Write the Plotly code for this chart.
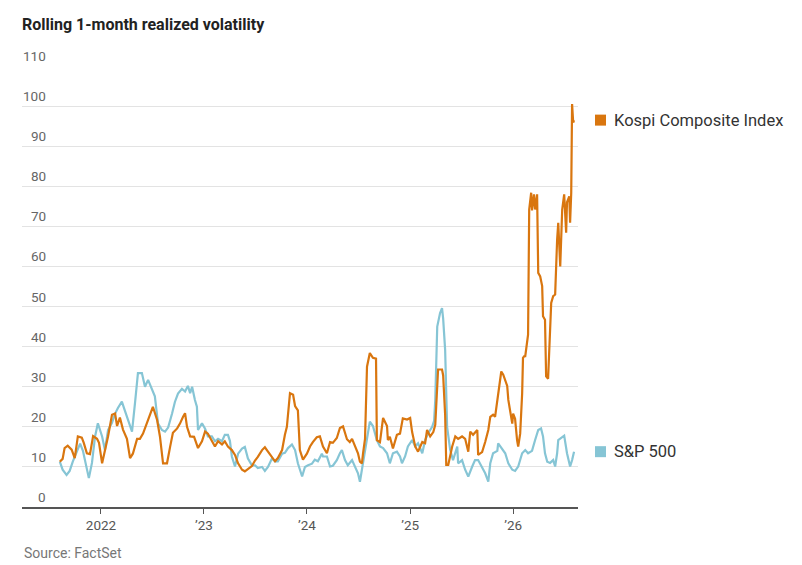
import plotly.graph_objects as go

kospi_dates = [
    "2021-08-08","2021-08-18","2021-08-25","2021-09-05","2021-09-19","2021-09-30","2021-10-11","2021-10-25",
    "2021-11-01","2021-11-12","2021-11-23","2021-12-04","2021-12-18","2021-12-25","2022-01-05","2022-01-15",
    "2022-01-26","2022-02-09","2022-02-20","2022-02-27","2022-03-09","2022-03-20","2022-04-03","2022-04-14",
    "2022-04-24","2022-05-09","2022-05-19","2022-05-30","2022-06-13","2022-06-24","2022-07-04","2022-07-19",
    "2022-07-29","2022-08-09","2022-08-23","2022-09-03","2022-09-13","2022-09-28","2022-10-08","2022-10-19",
    "2022-10-26","2022-11-02","2022-11-13","2022-11-27","2022-12-11","2022-12-25","2023-01-05","2023-01-15",
    "2023-01-29","2023-02-09","2023-02-20","2023-03-06","2023-03-16","2023-03-27","2023-04-10","2023-04-21",
    "2023-05-02","2023-05-16","2023-05-26","2023-06-06","2023-06-20","2023-07-01","2023-07-11","2023-07-26",
    "2023-08-05","2023-08-16","2023-08-30","2023-09-10","2023-09-20","2023-10-05","2023-10-15","2023-10-22",
    "2023-11-02","2023-11-13","2023-11-20","2023-11-30","2023-12-07","2023-12-18","2024-01-01","2024-01-12",
    "2024-01-22","2024-02-05","2024-02-16","2024-02-27","2024-03-12","2024-03-23","2024-04-02","2024-04-16",
    "2024-04-27","2024-05-08","2024-05-22","2024-06-01","2024-06-09","2024-06-19","2024-06-30","2024-07-07",
    "2024-07-14","2024-07-18","2024-07-25","2024-08-01","2024-08-11","2024-08-22","2024-09-02","2024-09-05",
    "2024-09-16","2024-09-27","2024-10-11","2024-10-14","2024-10-21","2024-11-01","2024-11-15","2024-11-26",
    "2024-12-06","2024-12-21","2025-01-01","2025-01-08","2025-01-19","2025-01-29","2025-02-13","2025-02-23",
    "2025-03-02","2025-03-13","2025-03-24","2025-03-31","2025-04-07","2025-04-10","2025-04-24","2025-04-28",
    "2025-05-05","2025-05-09","2025-05-16","2025-05-30","2025-06-10","2025-06-20","2025-07-04","2025-07-15",
    "2025-07-26","2025-08-02","2025-08-12","2025-08-27","2025-08-30","2025-09-13","2025-09-24","2025-10-05",
    "2025-10-12","2025-10-22","2025-10-29","2025-11-06","2025-11-09","2025-11-20","2025-11-27","2025-12-11",
    "2025-12-15","2025-12-22","2025-12-29","2026-01-01","2026-01-08","2026-01-15","2026-01-19","2026-01-26",
    "2026-02-02","2026-02-05","2026-02-09","2026-02-13","2026-02-20","2026-02-23","2026-02-27","2026-03-06",
    "2026-03-09","2026-03-16","2026-03-20","2026-03-27","2026-03-31","2026-04-07","2026-04-14","2026-04-17",
    "2026-04-24","2026-04-28","2026-05-05","2026-05-09","2026-05-16","2026-05-23","2026-05-30","2026-06-06",
    "2026-06-10","2026-06-17","2026-06-24","2026-07-01","2026-07-08","2026-07-11","2026-07-19","2026-07-22",
    "2026-07-26","2026-07-29","2026-08-02","2026-08-05",
]
kospi_vol = [
    11.3, 12.0, 14.7, 15.3, 14.3, 12.2, 17.6, 17.3,
    16.0, 13.4, 13.2, 17.7, 17.0, 16.0, 10.9, 13.9,
    17.6, 23.0, 23.3, 20.2, 22.3, 19.3, 17.0, 12.2,
    13.3, 17.0, 17.0, 18.3, 20.8, 23.0, 25.0, 21.7,
    17.6, 10.9, 10.9, 15.0, 18.5, 19.6, 20.8, 22.5,
    23.4, 20.0, 17.6, 17.5, 14.7, 16.4, 18.8, 18.3,
    16.4, 15.1, 16.4, 15.6, 16.4, 15.1, 14.2, 13.0,
    10.9, 9.3, 8.9, 9.4, 10.2, 11.6, 12.5, 14.2,
    14.9, 13.8, 12.6, 11.4, 12.2, 14.2, 18.0, 20.0,
    28.4, 28.0, 25.2, 24.1, 14.2, 11.8, 13.3, 15.1,
    16.2, 17.4, 17.6, 15.1, 13.4, 16.2, 16.0, 17.2,
    19.7, 20.1, 16.9, 16.2, 17.0, 15.1, 13.4, 11.3,
    10.9, 13.4, 17.0, 35.0, 38.4, 37.2, 37.0, 16.7,
    16.2, 22.2, 20.2, 16.7, 17.5, 14.6, 18.0, 18.3,
    22.1, 21.8, 22.2, 18.7, 15.1, 13.8, 16.2, 15.9,
    19.2, 17.6, 18.7, 20.5, 30.0, 34.3, 34.3, 32.8,
    23.0, 10.5, 10.5, 15.1, 17.6, 17.0, 17.6, 17.0,
    13.8, 18.8, 18.0, 19.2, 13.0, 13.7, 16.2, 19.2,
    22.5, 23.0, 22.5, 26.7, 28.3, 33.8, 33.0, 30.2,
    26.7, 24.2, 20.8, 23.3, 22.0, 16.7, 15.1, 18.3,
    28.3, 37.2, 37.6, 37.6, 42.6, 43.0, 74.2, 78.4,
    74.0, 78.0, 74.2, 78.0, 58.4, 57.5, 55.1, 47.6,
    46.7, 32.6, 32.0, 40.9, 50.9, 52.6, 53.0, 66.7,
    70.9, 60.0, 74.2, 78.0, 68.4, 76.0, 77.5, 70.9,
    78.4, 100.5, 95.9, 96.5,
]

sp_dates = [
    "2021-08-08","2021-08-18","2021-09-01","2021-09-12","2021-09-23","2021-10-08","2021-10-19","2021-10-29",
    "2021-11-12","2021-11-19","2021-11-30","2021-12-11","2021-12-21","2022-01-05","2022-01-15","2022-01-26",
    "2022-02-09","2022-02-20","2022-03-02","2022-03-16","2022-03-27","2022-04-07","2022-04-21","2022-05-02",
    "2022-05-12","2022-05-26","2022-06-06","2022-06-17","2022-07-01","2022-07-11","2022-07-22","2022-08-05",
    "2022-08-16","2022-08-27","2022-09-10","2022-09-20","2022-10-01","2022-10-15","2022-10-26","2022-11-05",
    "2022-11-13","2022-11-20","2022-11-30","2022-12-07","2022-12-11","2022-12-25","2023-01-05","2023-01-15",
    "2023-01-29","2023-02-09","2023-02-20","2023-03-06","2023-03-16","2023-03-27","2023-04-03","2023-04-10",
    "2023-04-21","2023-05-02","2023-05-16","2023-05-26","2023-06-06","2023-06-20","2023-07-01","2023-07-11",
    "2023-07-26","2023-08-05","2023-08-16","2023-08-30","2023-09-10","2023-09-20","2023-10-05","2023-10-15",
    "2023-10-26","2023-11-09","2023-11-20","2023-11-30","2023-12-15","2023-12-25","2024-01-05","2024-01-19",
    "2024-01-29","2024-02-09","2024-02-23","2024-02-27","2024-03-12","2024-03-23","2024-04-02","2024-04-16",
    "2024-04-27","2024-05-04","2024-05-15","2024-05-25","2024-06-09","2024-06-19","2024-06-30","2024-07-07",
    "2024-07-18","2024-08-01","2024-08-11","2024-08-22","2024-09-05","2024-09-16","2024-09-27","2024-10-11",
    "2024-10-21","2024-11-01","2024-11-15","2024-11-26","2024-12-03","2024-12-14","2024-12-24","2025-01-08",
    "2025-01-19","2025-01-29","2025-02-13","2025-02-23","2025-03-06","2025-03-20","2025-03-27","2025-03-31",
    "2025-04-07","2025-04-17","2025-04-24","2025-04-28","2025-05-05","2025-05-12","2025-05-23","2025-06-02",
    "2025-06-17","2025-06-20","2025-07-04","2025-07-15","2025-07-26","2025-08-09","2025-08-19","2025-08-30",
    "2025-09-13","2025-09-24","2025-10-05","2025-10-12","2025-10-22","2025-11-06","2025-11-09","2025-11-23",
    "2025-12-04","2025-12-15","2025-12-29","2026-01-08","2026-01-19","2026-02-02","2026-02-13","2026-02-23",
    "2026-03-09","2026-03-20","2026-03-31","2026-04-10","2026-04-17","2026-04-24","2026-05-02","2026-05-12",
    "2026-05-23","2026-05-30","2026-06-06","2026-06-10","2026-06-24","2026-07-01","2026-07-11","2026-07-22",
    "2026-07-29","2026-08-05",
]
sp_vol = [
    11.3, 9.3, 8.0, 9.0, 11.3, 13.8, 15.8, 14.0,
    9.3, 7.2, 11.0, 17.6, 20.9, 17.6, 14.2, 19.2,
    21.0, 23.3, 24.7, 26.3, 24.0, 21.7, 18.8, 26.2,
    33.4, 33.4, 30.0, 31.7, 29.2, 27.6, 20.9, 19.2,
    18.8, 19.8, 23.3, 26.2, 28.3, 29.5, 28.8, 30.2,
    28.4, 30.0, 26.7, 25.0, 19.2, 20.9, 19.5, 17.6,
    17.6, 16.4, 17.0, 16.4, 18.0, 18.0, 16.5, 12.6,
    10.1, 13.3, 14.6, 15.0, 12.1, 10.4, 10.4, 9.7,
    10.0, 9.0, 10.0, 12.1, 11.4, 11.4, 13.3, 13.5,
    14.7, 15.6, 14.2, 10.9, 7.6, 10.0, 10.4, 10.8,
    11.8, 11.4, 13.3, 12.6, 12.6, 10.1, 10.3, 11.7,
    13.4, 14.2, 11.7, 10.4, 11.7, 10.1, 8.4, 6.3,
    10.9, 16.7, 21.3, 20.2, 16.7, 15.1, 14.7, 13.4,
    10.9, 13.4, 13.8, 12.6, 10.9, 12.6, 15.1, 16.7,
    15.1, 15.9, 13.4, 16.7, 18.4, 20.0, 21.5, 26.7,
    45.0, 48.4, 49.6, 47.0, 39.2, 20.0, 14.2, 11.7,
    15.1, 10.9, 11.7, 9.3, 7.6, 10.1, 11.7, 11.7,
    10.0, 8.4, 6.3, 10.9, 13.4, 14.0, 15.9, 14.5,
    13.4, 10.9, 9.3, 9.0, 10.1, 13.4, 14.2, 13.4,
    14.0, 16.7, 19.2, 19.6, 17.6, 13.4, 11.3, 11.0,
    11.7, 10.1, 13.4, 16.7, 17.6, 17.8, 13.4, 10.1,
    11.7, 13.8,
]

series_names = ["Kospi Composite Index", "S&P 500"]
series_colors = ["#D9760F", "#86C5D5"]
y_ticks = [0, 10, 20, 30, 40, 50, 60, 70, 80, 90, 100, 110]
x_tick_vals = ["2022-01-01", "2023-01-01", "2024-01-01", "2025-01-01", "2026-01-01"]
x_tick_text = ["2022", "\u201923", "\u201924", "\u201925", "\u201926"]

FONT = "Roboto, 'Noto Sans', sans-serif"

# The page body adds an 8px offset, so the figure is laid out 8px smaller.
W, H = 794, 557
ML, MR, MT, MB = 14, 224, 58, 58
PW = W - ML - MR
PH = H - MT - MB

fig = go.Figure()
fig.add_trace(go.Scatter(x=sp_dates, y=sp_vol, mode="lines", name=series_names[1],
                         line=dict(color=series_colors[1], width=2.2), hoverinfo="skip"))
fig.add_trace(go.Scatter(x=kospi_dates, y=kospi_vol, mode="lines", name=series_names[0],
                         line=dict(color=series_colors[0], width=2.2), hoverinfo="skip"))

# y tick labels (right-aligned, above gridlines)
for v in y_ticks:
    fig.add_annotation(x=0, xref="x domain", y=v, yref="y", text=str(v), showarrow=False,
                       xanchor="right", yanchor="bottom", xshift=26, yshift=0,
                       font=dict(family=FONT, size=13.5, color="#666666"))

# legend labels on the right
ends = [(kospi_vol[-1], series_names[0], series_colors[0]), (sp_vol[-1], series_names[1], series_colors[1])]
for val, name, col in ends:
    fig.add_shape(type="rect", xref="paper", yref="y", xsizemode="pixel", ysizemode="pixel",
                  xanchor=(600.5 - 22) / PW, yanchor=val, x0=-5.5, x1=5.5, y0=-5.5, y1=5.5,
                  fillcolor=col, line=dict(width=0))
    fig.add_annotation(x=(612 - 22) / PW, xref="paper", y=val, yref="y", text=name, showarrow=False,
                       xanchor="left", yanchor="middle",
                       font=dict(family=FONT, size=16.5, color="#333333"))

fig.add_annotation(x=0, xref="paper", y=-(553 - 507) / PH, yref="paper", text="Source: FactSet",
                   showarrow=False, xanchor="left", yanchor="middle",
                   font=dict(family=FONT, size=14, color="#777777"))

fig.update_layout(
    width=W, height=H,
    margin=dict(l=ML, r=MR, t=MT, b=MB),
    paper_bgcolor="white", plot_bgcolor="white",
    showlegend=False,
    title=dict(text="<b>Rolling 1-month realized volatility</b>", x=ML / W, xanchor="left",
               y=1 - 16 / H, yanchor="middle", font=dict(family=FONT, size=16, color="#222222")),
    xaxis=dict(range=["2021-03-27", "2026-08-19"], tickmode="array", tickvals=x_tick_vals,
               ticktext=x_tick_text, ticks="outside", ticklen=5, tickcolor="#555555",
               showline=True, linecolor="#555555", linewidth=1.5, showgrid=False, zeroline=False,
               tickfont=dict(family=FONT, size=13.5, color="#555555")),
    yaxis=dict(range=[0, 110], tickmode="array", tickvals=y_ticks, showticklabels=False,
               showgrid=True, gridcolor="#e3e3e3", gridwidth=1, zeroline=False, showline=False,
               ticks=""),
)

fig.write_html("out.html")
